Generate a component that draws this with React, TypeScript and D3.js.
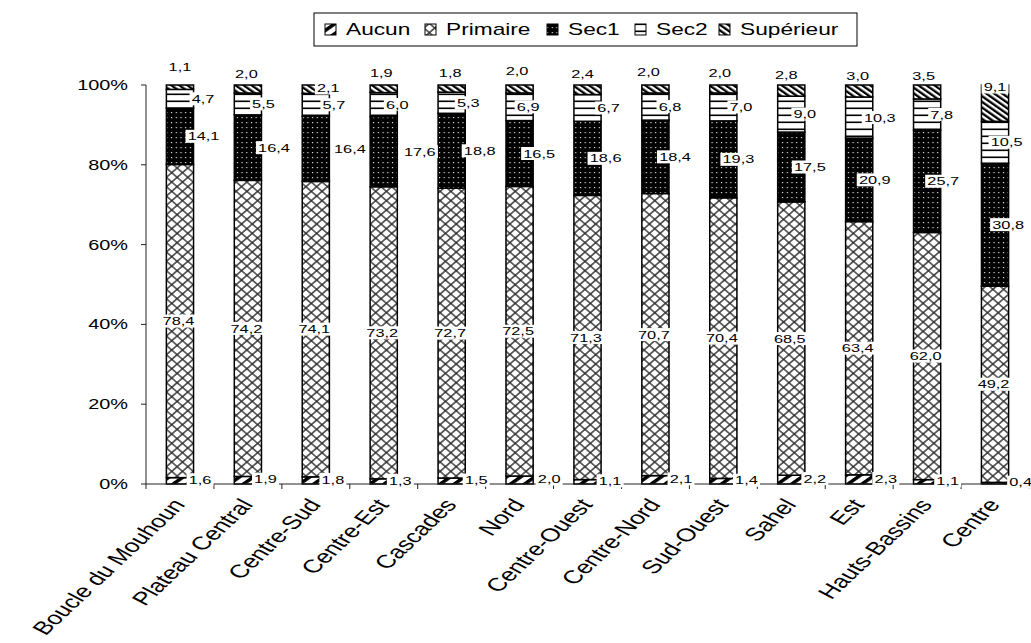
import React from 'react';
import * as d3 from 'd3';

const categories = ['Boucle du Mouhoun', 'Plateau Central', 'Centre-Sud', 'Centre-Est', 'Cascades', 'Nord', 'Centre-Ouest', 'Centre-Nord', 'Sud-Ouest', 'Sahel', 'Est', 'Hauts-Bassins', 'Centre'];
const aucun = [1.6, 1.9, 1.8, 1.3, 1.5, 2.0, 1.1, 2.1, 1.4, 2.2, 2.3, 1.1, 0.4];
const primaire = [78.4, 74.2, 74.1, 73.2, 72.7, 72.5, 71.3, 70.7, 70.4, 68.5, 63.4, 62.0, 49.2];
const sec1 = [14.1, 16.4, 16.4, 17.6, 18.8, 16.5, 18.6, 18.4, 19.3, 17.5, 20.9, 25.7, 30.8];
const sec2 = [4.7, 5.5, 5.7, 6.0, 5.3, 6.9, 6.7, 6.8, 7.0, 9.0, 10.3, 7.8, 10.5];
const superieur = [1.1, 2.0, 2.1, 1.9, 1.8, 2.0, 2.4, 2.0, 2.0, 2.8, 3.0, 3.5, 9.1];
const seriesNames = ['Aucun', 'Primaire', 'Sec1', 'Sec2', 'Supérieur'];
const yTickValues = [0, 20, 40, 60, 80, 100];

// ---- layout / style constants ----
const W = 1031;
const H = 643;
const SX = 1.42; // horizontal text stretch seen in the reference
const FONT = "'Liberation Sans', Arial, Helvetica, sans-serif";
const PLOT = { left: 146, right: 1029, top: 85, bottom: 484 };
const LABEL_FS = 11.5;
const AXIS_FS = 14;
const CAT_FS = 18.5;
const CAT_ANGLE = 53;
const LEGEND_FS = 16;
const LEGEND_ICON_X = [325, 425, 547, 635, 719];

// label placement nudges (pixels)
const NUDGE_AUCUN = [6.5, 4, 3.5, 3, 11, 16, 9, 12, 9.5, 10, 13, 7, 12];
const NUDGE_SEC1 = [10, 12.5, 20.5, 22.5, 14.5, 6, 4.5, 6, 1.5, 5, 2, 2.5, -0.5];
const NUDGE_SEC2 = [9.5, 2, 4.5, 0, 3, -5, 7.5, 1, 4, 0, 7, 1, -2];
const NUDGE_SUP_DX = [0, -1.5, 12.5, -2.5, -1.5, -2.5, -5, -7, -3.5, -5, -1.5, -3.5, 0];
const NUDGE_SUP_DY = [-18, -11, 3, -12, -12, -14, -11, -13, -12, -10, -9, -9, 2];

const patternIds: Record<string, string> = {
  'Aucun': 'pat-aucun',
  'Primaire': 'pat-primaire',
  'Sec1': 'pat-sec1',
  'Sec2': 'pat-sec2',
  'Supérieur': 'pat-sup',
};

let ctx: CanvasRenderingContext2D | null = null;
function measure(text: string, size: number): number {
  if (!ctx) {
    const c = document.createElement('canvas');
    ctx = c.getContext('2d');
  }
  if (ctx) {
    ctx.font = `${size}px ${FONT}`;
    return ctx.measureText(text).width;
  }
  return text.length * size * 0.55;
}

const fmt = (v: number) => v.toFixed(1).replace('.', ',');

function DataLabel({ x, y, text }: { x: number; y: number; text: string }) {
  const w = measure(text, LABEL_FS) + 3;
  const h = 13;
  return (
    <g transform={`translate(${x},${y}) scale(${SX},1)`}>
      <rect x={-w / 2} y={-h / 2} width={w} height={h} fill="#fff" />
      <text textAnchor="middle" dy="0.36em" fontSize={LABEL_FS} fontFamily={FONT} fill="#000">
        {text}
      </text>
    </g>
  );
}

function Patterns() {
  return (
    <defs>
      <pattern id="pat-aucun" patternUnits="userSpaceOnUse" width="7" height="7" patternTransform={`scale(${SX},1) rotate(45)`}>
        <rect width="7" height="7" fill="#fff" />
        <rect width="3" height="7" fill="#000" />
      </pattern>
      <pattern id="pat-primaire" patternUnits="userSpaceOnUse" width="6.6" height="6.6" patternTransform="scale(1.15,1) rotate(45)">
        <rect width="6.6" height="6.6" fill="#fff" />
        <path d="M0,3.3 H6.6 M3.3,0 V6.6" stroke="#2a2a2a" strokeWidth="1.3" fill="none" />
      </pattern>
      <pattern id="pat-sec1" patternUnits="userSpaceOnUse" width="4.7" height="5">
        <rect width="4.7" height="5" fill="#000" />
        <rect x="1.8" y="2" width="1.2" height="1.2" fill="#e0e0e0" />
      </pattern>
      <pattern id="pat-sec2" patternUnits="userSpaceOnUse" width="10" height="7">
        <rect width="10" height="7" fill="#fff" />
        <rect y="2.5" width="10" height="1.6" fill="#000" />
      </pattern>
      <pattern id="pat-sup" patternUnits="userSpaceOnUse" width="4" height="4" patternTransform={`scale(${SX},1) rotate(-45)`}>
        <rect width="4" height="4" fill="#fff" />
        <rect width="2" height="4" fill="#000" />
      </pattern>
    </defs>
  );
}

export default function App() {
  const rows = categories.map((c, i) => ({
    cat: c,
    'Aucun': aucun[i],
    'Primaire': primaire[i],
    'Sec1': sec1[i],
    'Sec2': sec2[i],
    'Supérieur': superieur[i],
  }));

  const stack = d3.stack<any>().keys(seriesNames).offset(d3.stackOffsetExpand);
  const layers = stack(rows);

  const x = d3.scaleBand<string>()
    .domain(categories)
    .range([PLOT.left, PLOT.right])
    .paddingInner(0.6)
    .paddingOuter(0.3);
  const y = d3.scaleLinear().domain([0, 1]).range([PLOT.bottom, PLOT.top]);

  const bw = x.bandwidth();
  const half = (x.step() - bw) / 2;
  const boundaries = categories.map((c) => (x(c) as number) - half).concat([PLOT.right]);

  const labels: { x: number; y: number; t: string }[] = [];
  layers.forEach((layer) => {
    const key = layer.key;
    layer.forEach((d, i) => {
      const x0 = x(categories[i]) as number;
      const right = x0 + bw;
      const cx = x0 + bw / 2;
      const ym = (y(d[0]) + y(d[1])) / 2;
      const v = (d.data as any)[key] as number;
      const t = fmt(v);
      if (key === 'Aucun') labels.push({ x: right + NUDGE_AUCUN[i], y: ym - 1, t });
      else if (key === 'Primaire') labels.push({ x: cx - 1.5, y: ym, t });
      else if (key === 'Sec1') labels.push({ x: right + NUDGE_SEC1[i], y: ym, t });
      else if (key === 'Sec2') labels.push({ x: right + NUDGE_SEC2[i], y: ym, t });
      else labels.push({ x: cx + NUDGE_SUP_DX[i], y: y(1) + NUDGE_SUP_DY[i], t });
    });
  });

  const legendY = 29.5;

  return (
    <svg width={W} height={H} style={{ display: 'block', position: 'absolute', left: 0, top: 0, background: '#fff' }}>
      <Patterns />
      <rect width={W} height={H} fill="#fff" />

      {/* legend */}
      <rect x={314} y={13} width={543} height={33} fill="#fff" stroke="#000" strokeWidth={1} />
      {seriesNames.map((s, i) => (
        <g key={s}>
          <rect x={LEGEND_ICON_X[i]} y={legendY - 5.5} width={11} height={11} fill={`url(#${patternIds[s]})`} stroke="#000" strokeWidth={1} />
          <g transform={`translate(${LEGEND_ICON_X[i] + 21},${legendY}) scale(${SX},1)`}>
            <text dy="0.36em" fontSize={LEGEND_FS} fontFamily={FONT} fill="#000">{s}</text>
          </g>
        </g>
      ))}

      {/* bars */}
      {layers.map((layer) => (
        <g key={layer.key}>
          {layer.map((d, i) => (
            <rect
              key={i}
              x={x(categories[i]) as number}
              y={y(d[1])}
              width={bw}
              height={Math.max(0, y(d[0]) - y(d[1]))}
              fill={`url(#${patternIds[layer.key]})`}
              stroke="#000"
              strokeWidth={1.5}
            />
          ))}
        </g>
      ))}

      {/* y axis */}
      <line x1={PLOT.left} x2={PLOT.left} y1={PLOT.top} y2={PLOT.bottom} stroke="#222" strokeWidth={1} />
      {yTickValues.map((t) => (
        <g key={t}>
          <line x1={PLOT.left - 5} x2={PLOT.left} y1={y(t / 100)} y2={y(t / 100)} stroke="#222" strokeWidth={1} />
          <g transform={`translate(${PLOT.left - 18},${y(t / 100)}) scale(${SX},1)`}>
            <text textAnchor="end" dy="0.36em" fontSize={AXIS_FS} fontFamily={FONT} fill="#000">{`${t}%`}</text>
          </g>
        </g>
      ))}

      {/* x axis */}
      <line x1={PLOT.left} x2={PLOT.right} y1={PLOT.bottom} y2={PLOT.bottom} stroke="#222" strokeWidth={1} />
      {boundaries.map((b, i) => (
        <line key={i} x1={b} x2={b} y1={PLOT.bottom} y2={PLOT.bottom + 5} stroke="#222" strokeWidth={1} />
      ))}
      {categories.map((c) => {
        const cx = (x(c) as number) + bw / 2;
        return (
          <g key={c} transform={`translate(${cx - 9},${PLOT.bottom + 13}) scale(${SX},1) rotate(${-CAT_ANGLE})`}>
            <text textAnchor="end" dy="0.72em" fontSize={CAT_FS} fontFamily={FONT} fill="#000">{c}</text>
          </g>
        );
      })}

      {/* data labels */}
      {labels.map((l, i) => (
        <DataLabel key={i} x={l.x} y={l.y} text={l.t} />
      ))}
    </svg>
  );
}
